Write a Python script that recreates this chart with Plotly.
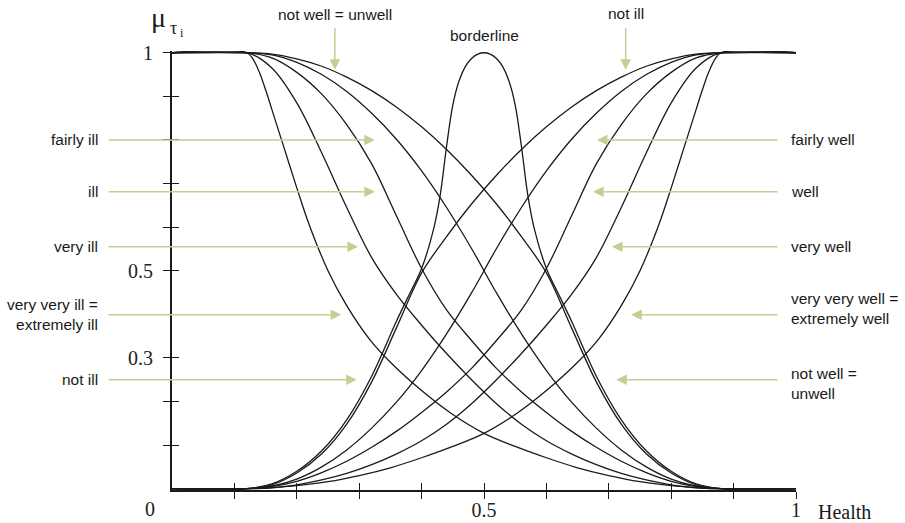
import plotly.graph_objects as go

# Health axis grid shared by the hedged membership curves
health = [0, 0.12, 0.16, 0.20, 0.24, 0.28, 0.32, 0.36, 0.40, 0.44, 0.48,
          0.52, 0.56, 0.60, 0.64, 0.68, 0.72, 0.76, 0.80, 0.84, 0.88, 1]

# decreasing terms
fairly_ill = [1, 1, 0.995, 0.978, 0.950, 0.911, 0.861, 0.801, 0.729, 0.645, 0.551,
              0.449, 0.355, 0.271, 0.199, 0.139, 0.089, 0.050, 0.022, 0.006, 0, 0]
ill = [1, 1, 0.988, 0.955, 0.905, 0.835, 0.745, 0.625, 0.505, 0.410, 0.340,
       0.276, 0.222, 0.175, 0.132, 0.095, 0.063, 0.037, 0.017, 0.005, 0, 0]
very_ill = [1, 1, 0.965, 0.885, 0.770, 0.645, 0.530, 0.445, 0.375, 0.310, 0.250,
            0.195, 0.148, 0.110, 0.080, 0.055, 0.035, 0.020, 0.009, 0.002, 0, 0]
not_well = [1, 1, 0.997, 0.986, 0.969, 0.944, 0.913, 0.875, 0.830, 0.778, 0.719,
            0.653, 0.578, 0.495, 0.370, 0.245, 0.148, 0.080, 0.036, 0.009, 0, 0]

extremely_ill_x = [0, 0.12, 0.13, 0.14, 0.15, 0.16, 0.18, 0.20, 0.22, 0.25, 0.28, 0.317,
                   0.35, 0.40, 0.45, 0.50, 0.55, 0.60, 0.65, 0.70, 0.75, 0.80, 0.85, 0.88, 1]
extremely_ill = [1, 1, 0.985, 0.955, 0.915, 0.870, 0.780, 0.690, 0.605, 0.500, 0.420, 0.342,
                 0.290, 0.225, 0.170, 0.127, 0.097, 0.071, 0.048, 0.030, 0.016, 0.007, 0.0015, 0, 0]

# increasing terms
fairly_well = [0, 0, 0.006, 0.022, 0.050, 0.089, 0.139, 0.199, 0.271, 0.355, 0.449,
               0.551, 0.645, 0.729, 0.801, 0.861, 0.911, 0.950, 0.978, 0.995, 1, 1]
well = [0, 0, 0.005, 0.017, 0.037, 0.063, 0.095, 0.132, 0.175, 0.222, 0.276,
        0.340, 0.410, 0.505, 0.625, 0.745, 0.835, 0.905, 0.955, 0.988, 1, 1]
very_well = [0, 0, 0.002, 0.009, 0.020, 0.035, 0.055, 0.080, 0.110, 0.148, 0.195,
             0.250, 0.310, 0.375, 0.445, 0.530, 0.645, 0.770, 0.885, 0.965, 1, 1]
not_ill = [0, 0, 0.009, 0.036, 0.080, 0.148, 0.245, 0.370, 0.495, 0.578, 0.653,
           0.719, 0.778, 0.830, 0.875, 0.913, 0.944, 0.969, 0.986, 0.997, 1, 1]

extremely_well_x = [0, 0.12, 0.15, 0.20, 0.25, 0.30, 0.35, 0.40, 0.45, 0.50, 0.55, 0.60,
                    0.65, 0.683, 0.72, 0.75, 0.78, 0.80, 0.82, 0.84, 0.85, 0.86, 0.87, 0.88, 1]
extremely_well = [0, 0, 0.0015, 0.007, 0.016, 0.030, 0.048, 0.071, 0.097, 0.127, 0.170, 0.225,
                  0.290, 0.342, 0.420, 0.500, 0.605, 0.690, 0.780, 0.870, 0.915, 0.955, 0.985, 1, 1]

# borderline bell around 0.5
borderline_x = [0, 0.12, 0.16, 0.20, 0.24, 0.28, 0.32, 0.36, 0.38, 0.40, 0.42, 0.43, 0.44,
                0.45, 0.46, 0.47, 0.48, 0.49, 0.50, 0.51, 0.52, 0.53, 0.54, 0.55, 0.56,
                0.57, 0.58, 0.60, 0.62, 0.64, 0.68, 0.72, 0.76, 0.80, 0.84, 0.88, 1]
borderline = [0, 0, 0.011, 0.040, 0.087, 0.158, 0.258, 0.385, 0.445, 0.505, 0.600, 0.675, 0.785,
              0.880, 0.935, 0.968, 0.987, 0.997, 1, 0.997, 0.987, 0.968, 0.935, 0.880, 0.785,
              0.675, 0.600, 0.505, 0.445, 0.385, 0.258, 0.158, 0.087, 0.040, 0.011, 0, 0]

tick_vals = [0.1, 0.2, 0.3, 0.4, 0.5, 0.6, 0.7, 0.8, 0.9, 1.0]
x_tick_text = ["", "", "", "", "0.5", "", "", "", "", "1"]
y_tick_text = ["", "", "0.3", "", "0.5", "", "", "", "", "1"]

INK = "#1a1a1a"
GREEN = "#c3ce92"
SANS = "Liberation Sans, Arial, sans-serif"
SERIF = "Liberation Serif, Times New Roman, serif"

x_range = [0, 1]
y_range = [-0.003, 1.004]


def py(mu):
    """Membership value -> paper fraction of the plot height."""
    return (mu - y_range[0]) / (y_range[1] - y_range[0])


curves = [
    (health, fairly_ill), (health, ill), (health, very_ill), (health, not_well),
    (extremely_ill_x, extremely_ill),
    (health, fairly_well), (health, well), (health, very_well), (health, not_ill),
    (extremely_well_x, extremely_well),
]

fig = go.Figure()
for xs, ys in curves:
    fig.add_trace(go.Scatter(x=xs, y=ys, mode="lines",
                             line=dict(color=INK, width=1.3, shape="spline", smoothing=1.0),
                             hoverinfo="skip"))
# the borderline sits on the overlay axes that carry the inner tick halves
fig.add_trace(go.Scatter(x=borderline_x, y=borderline, mode="lines", xaxis="x2", yaxis="y2",
                         line=dict(color=INK, width=1.3, shape="spline", smoothing=1.0),
                         hoverinfo="skip"))

axis_common = dict(tickvals=tick_vals, ticklen=7, tickwidth=1.3, tickcolor=INK,
                   showgrid=False, zeroline=False, automargin=False)

fig.update_layout(
    width=905, height=523,
    margin=dict(l=172, r=109, t=51, b=33, pad=0, autoexpand=False),
    plot_bgcolor="white", paper_bgcolor="white",
    showlegend=False,
    xaxis=dict(range=x_range, ticktext=x_tick_text, ticks="outside",
               showline=True, linewidth=2, linecolor=INK, ticklabelstandoff=-6,
               tickfont=dict(family=SERIF, size=20, color="#222"), **axis_common),
    yaxis=dict(range=y_range, ticktext=y_tick_text, ticks="outside",
               showline=True, linewidth=2, linecolor=INK, ticklabelstandoff=6,
               tickfont=dict(family=SERIF, size=20, color="#222"), **axis_common),
    xaxis2=dict(range=x_range, overlaying="x", anchor="y2", side="bottom", ticks="inside",
                showticklabels=False, showline=False, **axis_common),
    yaxis2=dict(range=y_range, overlaying="y", anchor="x2", side="left", ticks="inside",
                showticklabels=False, showline=False, **axis_common),
)

ann = []


def label(text, x, mu, xanchor="center", align="center", size=15.5, family=SANS):
    ann.append(dict(text=text, x=x, y=py(mu), xref="paper", yref="paper", showarrow=False,
                    xanchor=xanchor, yanchor="middle", align=align,
                    font=dict(family=family, size=size, color="#1a1a1a")))


def arrow(x_tip, y_tip, x_tail, y_tail):
    ann.append(dict(text="", x=x_tip, y=y_tip, ax=x_tail, ay=y_tail,
                    xref="x", yref="y", axref="x", ayref="y",
                    showarrow=True, arrowhead=2, arrowsize=1.4, arrowwidth=1.5,
                    arrowcolor=GREEN, standoff=0))


# left-hand terms
left_terms = [("fairly ill", 0.800, 0.325), ("ill", 0.681, 0.325), ("very ill", 0.555, 0.298),
              ("very very ill =<br>extremely ill", 0.399, 0.271), ("not ill", 0.250, 0.296)]
for text, y, tip in left_terms:
    arrow(tip, y, -0.104, y)
    label(text, -0.115, y, xanchor="right", align="right")

# right-hand terms
right_terms = [("fairly well", 0.800, 0.800, 0.681), ("well", 0.681, 0.681, 0.675),
               ("very well", 0.555, 0.555, 0.705),
               ("very very well =<br>extremely well", 0.399, 0.413, 0.736),
               ("not well =<br>unwell", 0.250, 0.241, 0.712)]
for text, y, ty, tip in right_terms:
    arrow(tip, y, 0.973, y)
    label(text, 0.989, ty, xanchor="left", align="left")

# terms above the plot
arrow(0.261, 0.961, 0.261, 1.060)
label("not well = unwell", 0.261, 1.087)
arrow(0.727, 0.961, 0.727, 1.060)
label("not ill", 0.727, 1.089)
label("borderline", 0.5, 1.039)

# axis captions
label("0", -0.035, -0.046, size=20, family=SERIF)
label("Health", 1.0785, -0.053, size=20, family=SERIF)
label("μ", -0.021, 1.080, size=28, family=SERIF)
label("τ", 0.002, 1.057, size=18, family=SERIF)
label("i", 0.016, 1.046, size=12, family=SERIF)

fig.update_layout(annotations=ann)
fig.write_html("out.html")
